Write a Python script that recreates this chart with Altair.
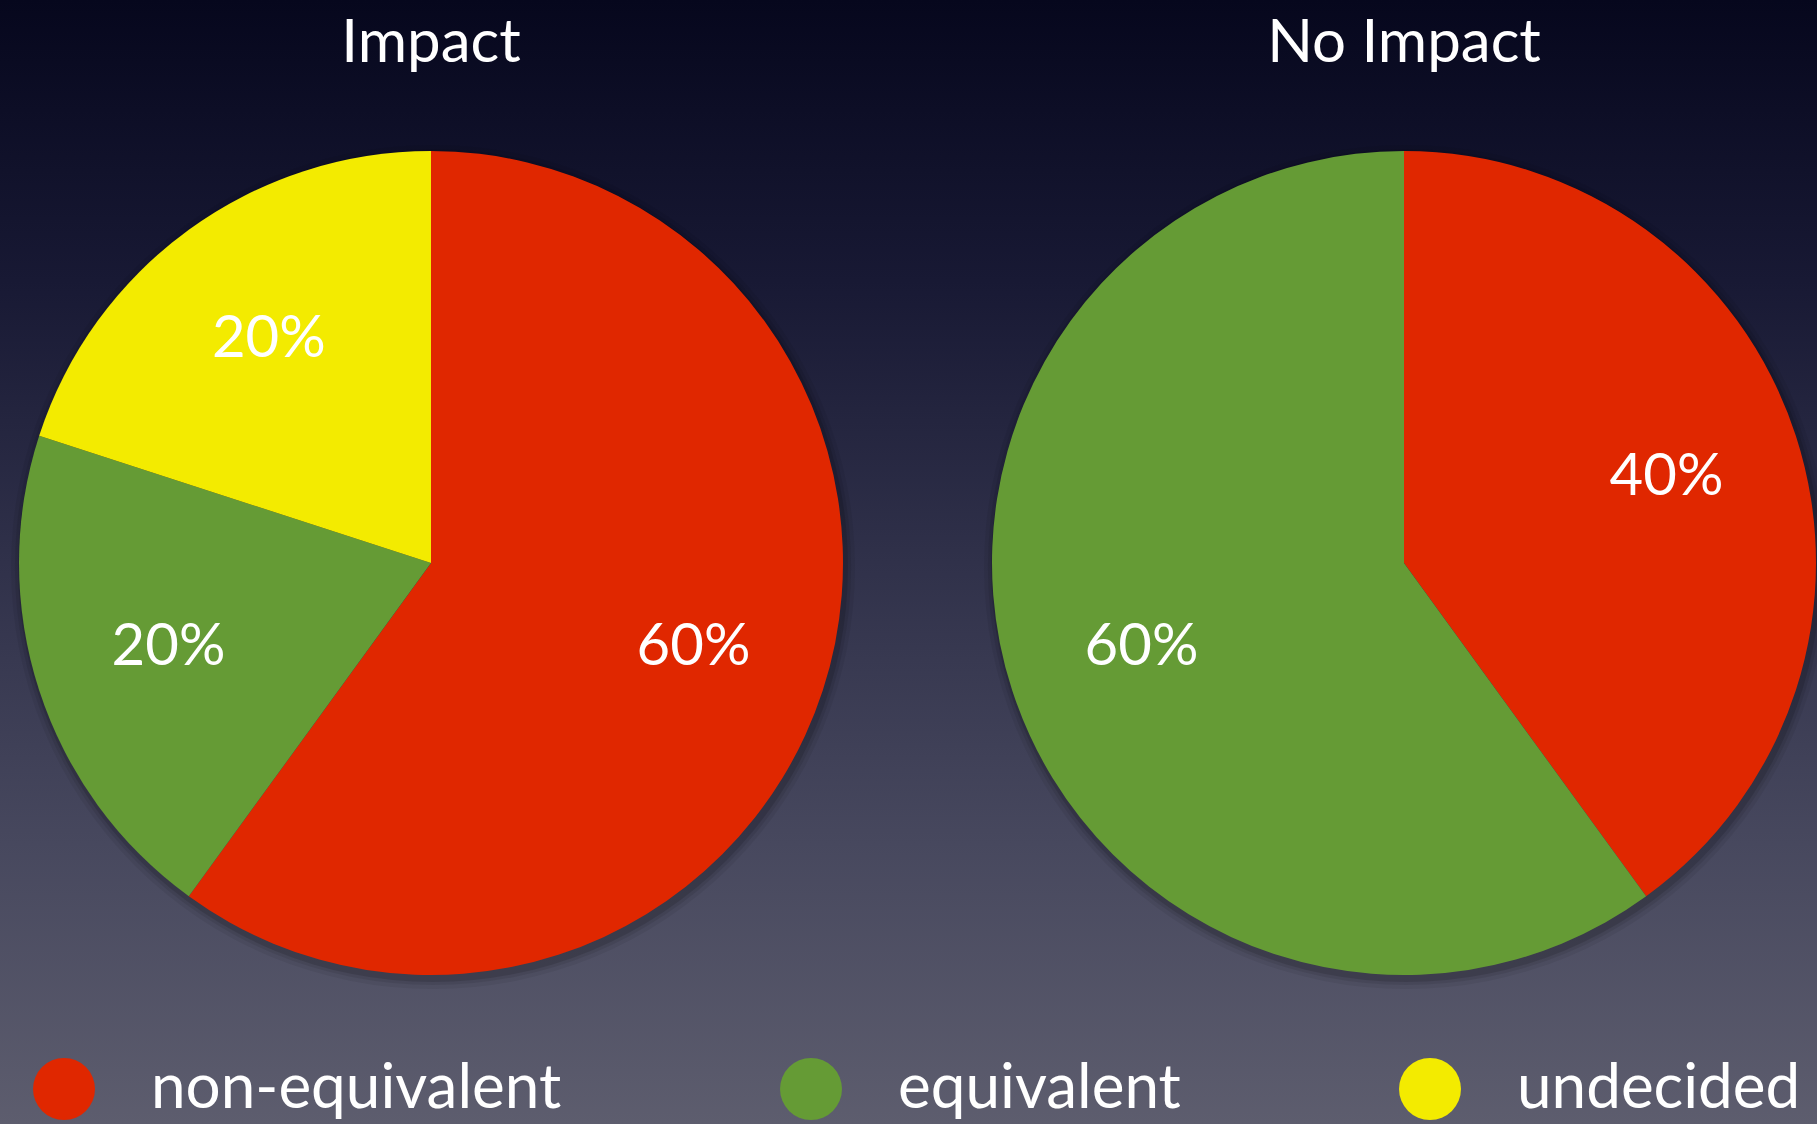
import altair as alt
import pandas as pd

# --- data -------------------------------------------------------------
categories = ["non-equivalent", "equivalent", "undecided"]
colors = ["#e02700", "#659b35", "#f3eb00"]
panels = ["Impact", "No Impact"]
impact_values = [60, 20, 20]
no_impact_values = [40, 60, 0]

rows = []
for panel, values in zip(panels, [impact_values, no_impact_values]):
    for i, (cat, v) in enumerate(zip(categories, values)):
        if v > 0:
            rows.append({"panel": panel, "category": cat, "idx": i,
                         "value": v, "label": f"{v}%"})
df = pd.DataFrame(rows)
titles = pd.DataFrame({"panel": panels})

# --- layout -----------------------------------------------------------
W, H = 1817, 1124
CENTERS = {"Impact": (431, 563), "No Impact": (1404, 563)}
R = 412
LABEL_R = 276
FONT = "Lato"

color_scale = alt.Scale(domain=categories, range=colors)

background = alt.Chart(titles.head(1)).mark_rect(
    fill=alt.LinearGradient(
        gradient="linear", x1=0, y1=0, x2=0, y2=1,
        stops=[
            alt.GradientStop(offset=0.0, color="#06071d"),
            alt.GradientStop(offset=0.25, color="#181934"),
            alt.GradientStop(offset=0.5, color="#30314a"),
            alt.GradientStop(offset=0.75, color="#47485e"),
            alt.GradientStop(offset=1.0, color="#5d5d6e"),
        ],
    )
).encode(x=alt.value(0), x2=alt.value(W), y=alt.value(0), y2=alt.value(H))

layers = [background]

# soft shadow under each pie
for panel in panels:
    cx, cy = CENTERS[panel]
    for extra, op in [(10, 0.06), (6, 0.08), (3, 0.12)]:
        layers.append(
            alt.Chart(titles).transform_filter(alt.datum.panel == panel)
            .mark_arc(outerRadius=R + extra, color="black", opacity=op)
            .encode(theta=alt.value(0), theta2=alt.value(6.2832),
                    x=alt.value(cx + 2), y=alt.value(cy + 4))
        )

for k, panel in enumerate(panels):
    cx, cy = CENTERS[panel]
    base = alt.Chart(df).transform_filter(alt.datum.panel == panel)
    pie = base.mark_arc(outerRadius=R).encode(
        theta=alt.Theta("value:Q", stack=True),
        order=alt.Order("idx:Q"),
        color=alt.Color(
            "category:N", scale=color_scale,
            legend=alt.Legend(
                title=None, orient="none", direction="horizontal",
                legendX=33, legendY=1058, padding=0,
                symbolType="circle", symbolSize=3844,
                symbolStrokeWidth=0, symbolOpacity=1,
                labelFont=FONT, labelFontSize=62, labelColor="white",
                labelOffset=56, columnPadding=218, labelLimit=600,
            ) if k == 0 else None,
        ),
        x=alt.value(cx), y=alt.value(cy),
    )
    labels = base.mark_text(
        radius=LABEL_R, font=FONT, fontSize=58, color="white",
    ).encode(
        theta=alt.Theta("value:Q", stack=True),
        order=alt.Order("idx:Q"),
        detail="category:N",
        text="label:N",
        x=alt.value(cx), y=alt.value(cy),
    )
    title = alt.Chart(titles).transform_filter(alt.datum.panel == panel).mark_text(
        font=FONT, fontSize=60, color="white", baseline="alphabetic",
    ).encode(text="panel:N", x=alt.value(cx), y=alt.value(62))
    layers += [pie, labels, title]

chart = alt.layer(*layers).properties(
    width=W, height=H, padding=0,
    autosize=alt.AutoSizeParams(type="none"),
).configure_view(stroke=None).configure(background="#5d5d6e")

chart.save("out.html", embed_options={"renderer": "svg", "actions": False})
